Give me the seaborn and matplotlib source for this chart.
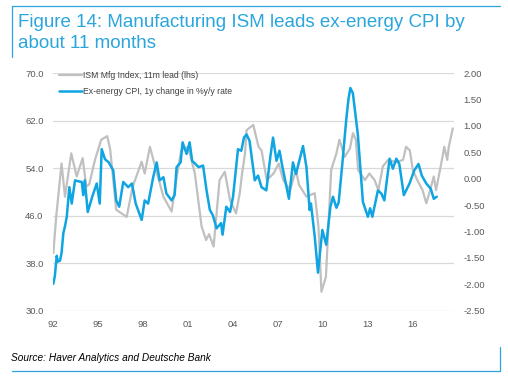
import numpy as np
import pandas as pd
import seaborn as sns
import matplotlib.pyplot as plt
from matplotlib.lines import Line2D

# ISM Mfg Index, 11m lead (lhs) - decimal year, level
ism_year = [1992.0, 1992.2, 1992.4, 1992.55, 1992.78, 1993.1, 1993.2, 1993.56, 1993.96,
            1994.2, 1994.4, 1994.78, 1995.2, 1995.6, 1995.8, 1996.2, 1996.9, 1997.3,
            1997.9, 1998.1, 1998.45, 1998.8, 1999.35, 1999.9, 2000.2, 2000.55, 2001.0,
            2001.45, 2001.9, 2002.2, 2002.4, 2002.7, 2003.1, 2003.45, 2003.8, 2004.2,
            2004.45, 2004.6, 2004.8, 2004.9, 2005.35, 2005.7, 2005.9, 2006.25, 2006.7,
            2007.05, 2007.35, 2007.8, 2008.2, 2008.4, 2008.9, 2009.45, 2009.7, 2009.9,
            2010.2, 2010.55, 2010.9, 2011.1, 2011.45, 2011.8, 2012.0, 2012.2, 2012.35,
            2012.8, 2013.1, 2013.45, 2013.7, 2014.0, 2014.35, 2014.9, 2015.35, 2015.55,
            2015.8, 2016.0, 2016.3, 2016.65, 2016.9, 2017.1, 2017.4, 2017.55, 2017.9,
            2018.1, 2018.3, 2018.4, 2018.67]
ism_value = [39.7, 46.0, 51.0, 54.8, 49.2, 54.8, 56.5, 52.6, 55.7,
             50.9, 51.3, 55.4, 58.8, 59.4, 57.1, 47.0, 45.8, 50.9,
             55.1, 53.1, 57.6, 54.3, 49.2, 46.7, 52.0, 57.1, 57.6,
             53.1, 44.2, 41.9, 42.9, 40.8, 52.0, 53.4, 48.6, 46.4,
             49.8, 53.1, 56.5, 60.4, 61.3, 57.6, 57.0, 52.0, 53.1,
             54.8, 52.0, 50.3, 53.7, 51.2, 49.2, 49.8, 44.2, 33.2,
             35.7, 53.7, 56.5, 58.8, 55.9, 57.3, 59.9, 58.8, 53.7,
             52.0, 53.1, 52.0, 50.3, 54.3, 55.4, 55.0, 55.4, 57.6,
             57.0, 53.7, 52.0, 50.3, 48.1, 49.8, 52.6, 50.3, 54.8,
             57.6, 55.4, 57.6, 60.7]

# Ex-energy CPI, 1y change in %y/y rate (rhs)
cpi_year = [1992.0, 1992.1, 1992.23, 1992.3, 1992.45, 1992.55, 1992.67, 1992.78, 1992.9,
            1993.07, 1993.23, 1993.45, 1993.7, 1993.9, 1994.0, 1994.1, 1994.3, 1994.6,
            1994.9, 1995.1, 1995.23, 1995.45, 1995.7, 1996.0, 1996.2, 1996.4, 1996.67,
            1997.0, 1997.25, 1997.5, 1997.9, 1998.1, 1998.33, 1998.67, 1998.9, 1999.1,
            1999.35, 1999.55, 1999.9, 2000.1, 2000.23, 2000.5, 2000.63, 2000.9, 2001.1,
            2001.27, 2001.7, 2002.0, 2002.23, 2002.45, 2002.65, 2002.9, 2003.2, 2003.3,
            2003.55, 2003.8, 2004.0, 2004.33, 2004.55, 2004.73, 2004.9, 2005.1, 2005.45,
            2005.67, 2005.9, 2006.22, 2006.5, 2006.67, 2006.9, 2007.1, 2007.3, 2007.73,
            2008.0, 2008.2, 2008.67, 2008.9, 2009.11, 2009.2, 2009.45, 2009.67, 2009.96,
            2010.22, 2010.5, 2010.67, 2010.9, 2011.05, 2011.3, 2011.55, 2011.7, 2011.83,
            2012.0, 2012.33, 2012.67, 2013.0, 2013.15, 2013.3, 2013.67, 2013.9, 2014.1,
            2014.45, 2014.67, 2014.9, 2015.1, 2015.4, 2015.78, 2016.1, 2016.38, 2016.6,
            2016.9, 2017.2, 2017.4, 2017.6]
cpi_value = [-1.99, -1.85, -1.46, -1.57, -1.55, -1.41, -1.03, -0.90, -0.72,
             -0.16, -0.47, -0.03, -0.05, -0.06, -0.31, -0.03, -0.63, -0.34,
             -0.09, -0.47, 0.56, 0.37, 0.31, 0.16, -0.41, -0.53, -0.06,
             -0.16, -0.09, -0.47, -0.78, -0.41, -0.47, 0.03, 0.31, -0.03,
             0.03, -0.28, -0.41, -0.31, 0.22, 0.31, 0.69, 0.47, 0.69,
             0.34, 0.22, 0.25, -0.22, -0.59, -0.69, -0.94, -0.84, -1.06,
             -0.53, -0.63, -0.34, 0.56, 0.53, 0.78, 0.84, 0.72, -0.03,
             0.06, -0.16, -0.22, 0.44, 0.78, 0.34, 0.53, 0.22, -0.38,
             0.31, 0.09, 0.62, 0.22, -0.59, -0.47, -1.09, -1.78, -0.97,
             -1.25, -0.53, -0.34, -0.55, -0.45, 0.30, 1.10, 1.50, 1.72,
             1.62, 0.84, -0.44, -0.72, -0.56, -0.72, -0.22, -0.28, -0.41,
             0.38, 0.19, 0.38, 0.28, -0.31, -0.09, 0.16, 0.28, 0.06,
             -0.09, -0.19, -0.38, -0.34]

x_ticks = [1992, 1995, 1998, 2001, 2004, 2007, 2010, 2013, 2016]
x_labels = ['92', '95', '98', '01', '04', '07', '10', '13', '16']
left_ticks = [30, 38, 46, 54, 62, 70]
right_ticks = [-2.5, -2.0, -1.5, -1.0, -0.5, 0.0, 0.5, 1.0, 1.5, 2.0]

ism = pd.DataFrame({'year': ism_year, 'value': ism_value})
cpi = pd.DataFrame({'year': cpi_year, 'value': cpi_value})

sns.set_style('white')
plt.rcParams['font.family'] = ['Liberation Sans', 'DejaVu Sans']

grey = '#c0c0c0'
blue = '#0fa4e2'
frame_blue = '#2aa6dc'
txt = '#595959'

fig = plt.figure(figsize=(5.08, 3.82), dpi=100)
ax = fig.add_axes([53.3 / 508, 1 - 310.7 / 382, (454 - 53.3) / 508, (310.7 - 73.2) / 382])
ax2 = ax.twinx()

sns.lineplot(data=ism, x='year', y='value', ax=ax, color=grey, linewidth=1.6, zorder=2)
sns.lineplot(data=cpi, x='year', y='value', ax=ax2, color=blue, linewidth=1.8, zorder=3)

ax.set_xlim(1992, 2018.75)
ax.set_ylim(30, 70)
ax2.set_ylim(-2.5, 2.0)
ax.set_yticks(left_ticks)
ax.set_yticklabels([f'{v:.1f}' for v in left_ticks])
ax2.set_yticks(right_ticks)
ax2.set_yticklabels([f'{v:.2f}' for v in right_ticks])
ax.set_xticks(x_ticks)
ax.set_xticklabels(x_labels)
ax.grid(axis='y', color='#d9d9d9', linewidth=0.9)
ax.grid(axis='x', visible=False)
ax2.grid(False)
for a in (ax, ax2):
    for s in a.spines.values():
        s.set_visible(False)
    a.set_xlabel('')
    a.set_ylabel('')
    a.tick_params(length=0, labelsize=6.8, colors=txt, pad=7)
ax.set_zorder(ax2.get_zorder() - 1)
ax2.patch.set_visible(False)
ax.patch.set_visible(False)

# legend drawn in the upper-left corner of the plot
handles = [Line2D([], [], color=grey, linewidth=1.6),
           Line2D([], [], color=blue, linewidth=1.8)]
labels = ['ISM Mfg Index, 11m lead (lhs)', 'Ex-energy CPI, 1y change in %y/y rate']
leg = ax.legend(handles, labels, loc='upper left', bbox_to_anchor=(0.0, 1.035),
                frameon=False, fontsize=6.2, handlelength=2.6, handletextpad=0.2,
                labelspacing=0.8, borderaxespad=0.3)
for t in leg.get_texts():
    t.set_color('#404040')

# title, source and the blue frame lines
fig.text(18 / 508, 1 - 14 / 382,
         'Figure 14: Manufacturing ISM leads ex-energy CPI by\nabout 11 months',
         color=frame_blue, fontsize=13.5, va='top', ha='left', linespacing=1.3)
fig.text(11 / 508, 1 - 358 / 382, 'Source: Haver Analytics and Deutsche Bank',
         fontsize=7.3, style='italic', color='black', va='center', ha='left')
fig.add_artist(Line2D([12 / 508, 500 / 508], [1 - 6 / 382] * 2, color=frame_blue, linewidth=0.9))
fig.add_artist(Line2D([12 / 508] * 2, [1 - 6 / 382, 1 - 57 / 382], color=frame_blue, linewidth=0.9))
fig.add_artist(Line2D([12 / 508, 500 / 508], [1 - 371 / 382] * 2, color=frame_blue, linewidth=0.9))
fig.add_artist(Line2D([500 / 508] * 2, [1 - 347 / 382, 1 - 371 / 382], color=frame_blue, linewidth=0.9))

fig.savefig('out.png', dpi=100)
